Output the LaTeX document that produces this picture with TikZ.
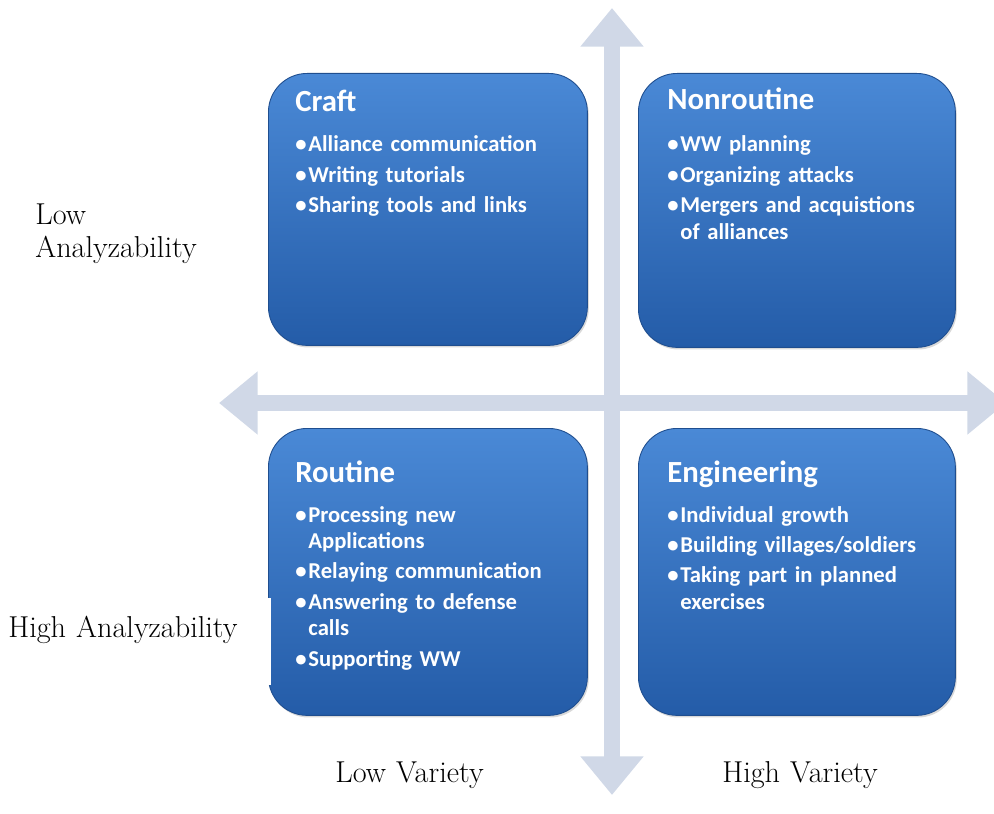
\documentclass[tikz,border=0pt]{standalone}
\usepackage{fontspec}
\newfontfamily\boxfont{Carlito}
\usetikzlibrary{arrows.meta,shadows}
\definecolor{boxtop}{RGB}{74,137,214}
\definecolor{boxbot}{RGB}{36,92,168}
\definecolor{axisgray}{RGB}{208,216,231}
\newcommand{\itm}{\textbullet\hspace{1pt}}
\newcommand{\hang}{\hphantom{\textbullet\hspace{1pt}}}
\tikzset{
  quad/.style={anchor=north west, inner sep=0pt, minimum width=6.38cm,
    rounded corners=22pt, top color=boxtop, bottom color=boxbot,
    draw=boxbot!85!black, line width=0.5pt,
    drop shadow={opacity=0.3, shadow xshift=0.8pt, shadow yshift=-1.2pt}},
  quadhead/.style={anchor=base west, inner sep=0pt, text=white,
    font=\boxfont\bfseries\fontsize{17.5}{20}\selectfont},
  quadlist/.style={anchor=base west, inner sep=0pt, text=white, text width=6.2cm,
    align=left, font=\boxfont\bfseries\fontsize{12.9}{15.1}\selectfont},
  axis/.style={draw=axisgray, line width=9.1pt,
    {Triangle[width=34.6pt,length=22pt]}-{Triangle[width=34.6pt,length=22pt]}},
  axislabel/.style={anchor=base west, inner sep=0pt, text width=5cm, align=left,
    font=\fontsize{17.2}{18.7}\selectfont}
}
\begin{document}
\begin{tikzpicture}[x=0.02cm,y=-0.02cm]
  \useasboundingbox (0,0) rectangle (994,814);
  \clip (0,0) rectangle (994,814);
  % axes
  \draw[axis] (612,795) -- (612,8);
  \draw[axis] (219,403) -- (1006,403);
  % quadrants
  \node[quad, minimum height=5.44cm] (craft) at (268,73) {};
  \node[quad, minimum height=5.48cm, minimum width=6.34cm] (nonroutine) at (638,73) {};
  \node[quad, minimum height=5.74cm] (routine) at (268,428) {};
  \node[quad, minimum height=5.74cm, minimum width=6.34cm] (engineering) at (638,428) {};
  \fill[white] (255,598) rectangle (271,685);
  % texts in the boxes
  \node[quadhead] (crafthead) at ([shift={(27,39)}]craft.north west) {Craft};
  \node[quadlist] (craftlist) at ([shift={(27,79)}]craft.north west)
    {\itm Alliance communication\\[2.2pt]
     \itm Writing tutorials\\[2.2pt]
     \itm Sharing tools and links};
  \node[quadhead] (nonhead) at ([shift={(29,37)}]nonroutine.north west) {Nonroutine};
  \node[quadlist] (nonlist) at ([shift={(29,79)}]nonroutine.north west)
    {\itm WW planning\\[2.2pt]
     \itm Organizing attacks\\[2.2pt]
     \itm Mergers and acquistions\\
     \hang of alliances};
  \node[quadhead] (routhead) at ([shift={(27,54)}]routine.north west) {Routine};
  \node[quadlist] (routlist) at ([shift={(27,94)}]routine.north west)
    {\itm Processing new\\
     \hang Applications\\[2.2pt]
     \itm Relaying communication\\[2.2pt]
     \itm Answering to defense\\
     \hang calls\\[2.2pt]
     \itm Supporting WW};
  \node[quadhead] (enghead) at ([shift={(29,54)}]engineering.north west) {Engineering};
  \node[quadlist] (englist) at ([shift={(29,94)}]engineering.north west)
    {\itm Individual growth\\[2.2pt]
     \itm Building villages/soldiers\\[2.2pt]
     \itm Taking part in planned\\
     \hang exercises};
  % axis labels
  \node[axislabel] (lowana) at (35,225) {Low\\Analyzability};
  \node[axislabel] (highana) at (8,637) {High Analyzability};
  \node[axislabel] (lowvar) at (335,782) {Low Variety};
  \node[axislabel] (highvar) at (722,782) {High Variety};
\end{tikzpicture}
\end{document}
